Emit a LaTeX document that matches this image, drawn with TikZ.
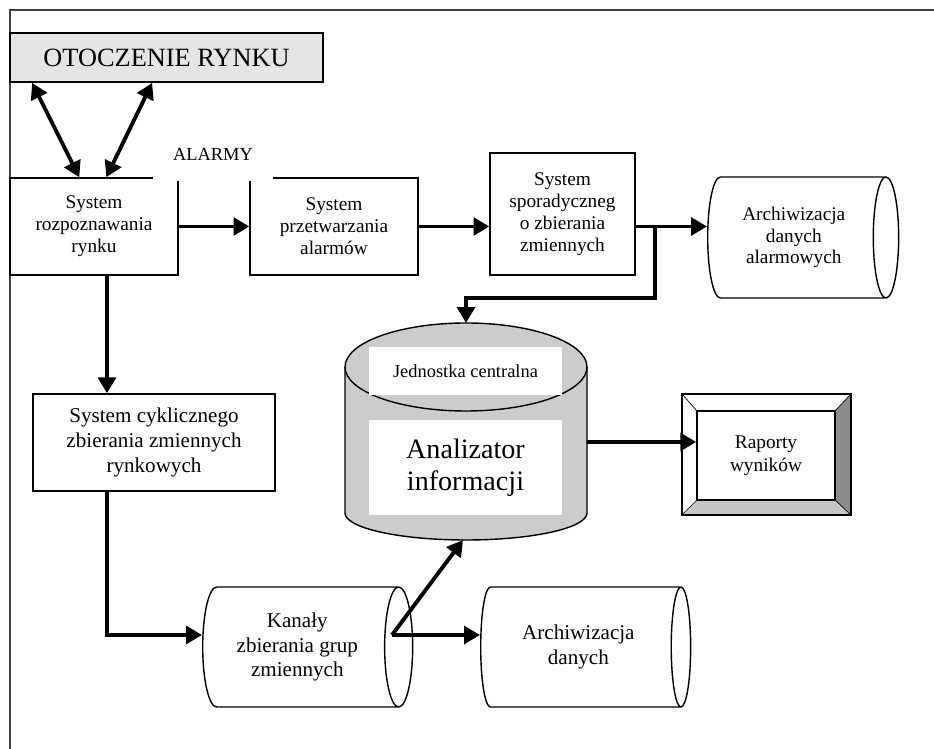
\documentclass[tikz,border=0pt]{standalone}
\usepackage{fontspec}
\setmainfont{Liberation Serif}
\usetikzlibrary{arrows.meta,shapes.geometric}

\begin{document}
\begin{tikzpicture}[x=0.02cm,y=0.02cm,yscale=-1,
    box/.style={draw,line width=0.8pt,fill=white,align=center,font=\fontsize{11}{12.5}\selectfont},
    tube/.style={shape=cylinder,draw,line width=0.8pt,aspect=0.35,align=center,anchor=west},
    flow/.style={line width=2.2pt,-{Triangle[length=9pt,width=10pt]}},
    both/.style={line width=2.2pt,{Triangle[length=9pt,width=10pt]}-{Triangle[length=9pt,width=10pt]}}]
  \useasboundingbox (0,0) rectangle (934,749);
  \draw[line width=1.2pt,black!75] (934,10) -- (10,10) -- (10,749);

  % gora
  \node[draw,fill=black!10,line width=1pt,minimum width=6.26cm,minimum height=0.98cm,
        font=\fontsize{15}{18}\selectfont] (otocz) at (166.5,57.5) {OTOCZENIE RYNKU};
  \node[box,minimum width=3.36cm,minimum height=1.94cm] (rozp) at (94,226.5) {System\\rozpoznawania\\rynku};
  \node[box,minimum width=3.36cm,minimum height=1.94cm] (przetw) at (334,226.5) {System\\przetwarzania\\alarmów};
  \node[box,minimum width=2.9cm,minimum height=2.44cm] (sporad) at (562.5,214) {System\\sporadyczneg\\o zbierania\\zmiennych};
  \node[fill=white,minimum width=2.4cm,minimum height=1.06cm,
        font=\fontsize{10.5}{12}\selectfont] (alarmy) at (213,154.5) {ALARMY};
  \node[tube,minimum width=2.42cm,minimum height=3.82cm,
        font=\fontsize{11}{12.3}\selectfont] (archA) at (707,237.5) {Archiwizacja\\danych\\alarmowych};

  % lewa strona i dol
  \node[box,minimum width=4.84cm,minimum height=1.94cm,
        font=\fontsize{12}{14}\selectfont] (cykl) at (154,442.5) {System cyklicznego\\zbierania zmiennych\\rynkowych};
  \node[tube,minimum width=2.4cm,minimum height=4.2cm,
        font=\fontsize{12}{14}\selectfont] (kanaly) at (202,647) {Kanały\\zbierania grup\\zmiennych};
  \node[tube,minimum width=2.4cm,minimum height=4.2cm,
        font=\fontsize{12}{14}\selectfont] (archD) at (480,647) {Archiwizacja\\danych};

  % jednostka centralna
  \fill[black!20] (345,367) -- (345,513) arc[start angle=180,end angle=0,x radius=121,y radius=27]
        -- (587,367) arc[start angle=0,end angle=-180,x radius=121,y radius=44] -- cycle;
  \draw[line width=0.8pt] (345,367) -- (345,513) arc[start angle=180,end angle=0,x radius=121,y radius=27]
        -- (587,367);
  \draw[line width=0.8pt] (466,367) ellipse[x radius=121,y radius=44];
  \node[fill=white,minimum width=3.86cm,minimum height=0.96cm,
        font=\fontsize{10.5}{12}\selectfont] (jedn) at (465.5,371) {Jednostka centralna};
  \node[fill=white,minimum width=3.86cm,minimum height=1.9cm,align=center,
        font=\fontsize{16}{18}\selectfont] (anal) at (465.5,467.5) {Analizator\\informacji};
  \coordinate (ctop) at (466,323);
  \coordinate (cbot) at (463,540);
  \coordinate (cright) at (587,442);

  % raporty
  \fill[black!45] (851,394) -- (835,411) -- (835,500) -- (851,515) -- cycle;
  \fill[black!22] (682,515) -- (697,500) -- (835,500) -- (851,515) -- cycle;
  \draw[line width=1pt] (682,394) rectangle (851,515);
  \draw (682,394) -- (697,411) (851,394) -- (835,411) (682,515) -- (697,500) (851,515) -- (835,500);
  \node[draw,line width=1pt,minimum width=2.76cm,minimum height=1.78cm,align=center,
        font=\fontsize{11}{13}\selectfont] (raport) at (766,455.5) {Raporty\\wyników};

  % polaczenia
  \draw[both] ([xshift=0.46cm]otocz.south west) -- ([xshift=1.4cm]rozp.north west);
  \draw[both] ([xshift=2.86cm]otocz.south west) -- ([xshift=1.94cm]rozp.north west);
  \draw[flow] (rozp.east) -- (przetw.west);
  \draw[flow] (przetw.east) -- (przetw.east -| sporad.west);
  \coordinate (split) at (655,226.5);
  \coordinate (bend) at (655,298);
  \draw[flow] (sporad.east |- split) -- (split) -- (bend) -| (ctop);
  \draw[flow] (split) -- (archA.west |- split);
  \draw[flow] ([xshift=0.26cm]rozp.south) coordinate (down1) -- (down1 |- cykl.north);
  \coordinate (kout) at (392,635);
  \draw[flow] ([xshift=-0.94cm]cykl.south) |- (kanaly.west |- kout);
  \draw[flow] (kout) -- (archD.west |- kout);
  \draw[flow] (kout) -- (cbot);
  \draw[flow] (cright) -- (raport.west |- cright);
\end{tikzpicture}
\end{document}
